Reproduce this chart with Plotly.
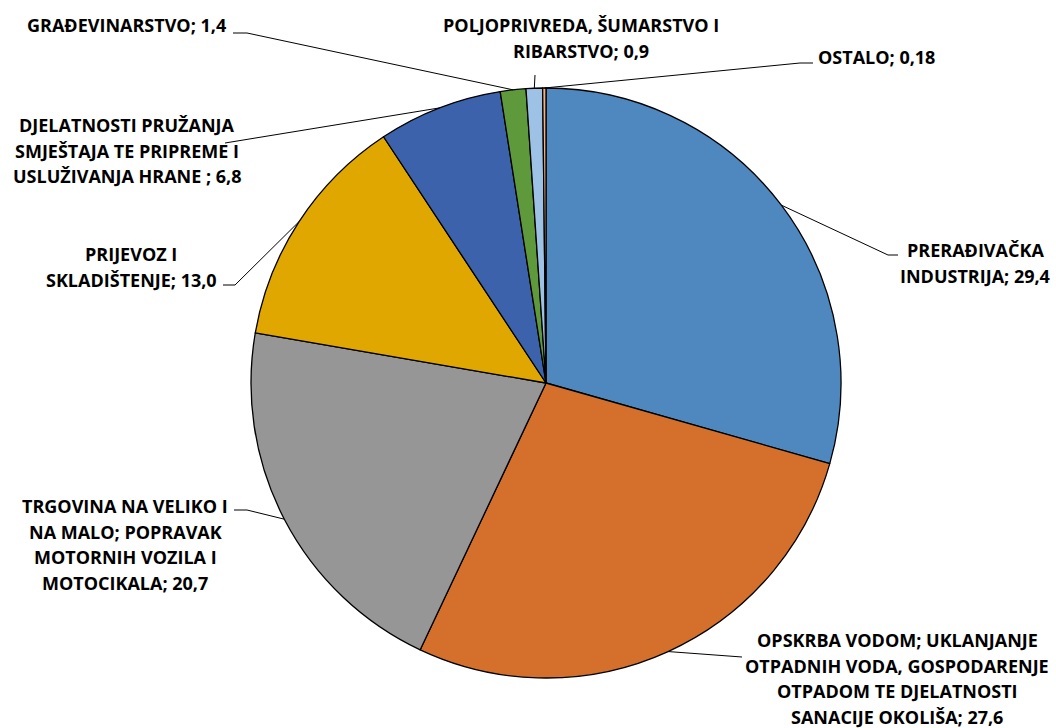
import math
import plotly.graph_objects as go

W, H = 1056, 728

# Sector names (line breaks as printed) and their shares
sectors = [
    "PRERAĐIVAČKA\nINDUSTRIJA",
    "OPSKRBA VODOM; UKLANJANJE\nOTPADNIH VODA, GOSPODARENJE\nOTPADOM TE DJELATNOSTI\nSANACIJE OKOLIŠA",
    "TRGOVINA NA VELIKO I\nNA MALO; POPRAVAK\nMOTORNIH VOZILA I\nMOTOCIKALA",
    "PRIJEVOZ I\nSKLADIŠTENJE",
    "DJELATNOSTI PRUŽANJA\nSMJEŠTAJA TE PRIPREME I\nUSLUŽIVANJA HRANE ",
    "GRAĐEVINARSTVO",
    "POLJOPRIVREDA, ŠUMARSTVO I\nRIBARSTVO",
    "OSTALO",
]
values = [29.4, 27.6, 20.7, 13.0, 6.8, 1.4, 0.9, 0.18]
colors = ["#4F87BF", "#D4702C", "#969696", "#E0A700", "#3B62AB",
          "#5E9A3C", "#9EC2E6", "#F4B183"]

# Pie geometry in pixels
CX, CY, R = 546, 383, 295

# Label placement: text centre x, first-line y, leader bend point, leader end point
label_pos = [
    dict(x=975, y=250, bend=(888, 255), end=(898, 255)),
    dict(x=897, y=640, bend=(742, 657), end=(742, 657)),
    dict(x=125, y=506, bend=(247, 510), end=(234, 510)),
    dict(x=131, y=254, bend=(235, 285), end=(223, 285)),
    dict(x=127, y=125, bend=(225, 143), end=(225, 143)),
    dict(x=126, y=25, bend=(247, 33), end=(233, 33)),
    dict(x=581, y=25, bend=(535, 75), end=(535, 75)),
    dict(x=876, y=57, bend=(800, 63), end=(813, 63)),
]
LINE_STEP = 25.7
FONT = dict(family="Open Sans", size=18, color="#000000", weight=700)


def px(x, y):
    return x / W, 1 - y / H


def fmt(v):
    return str(v).replace(".", ",")


fig = go.Figure(go.Pie(
    labels=[s.replace("\n", " ") for s in sectors],
    values=values,
    sort=False,
    direction="clockwise",
    rotation=0,
    textinfo="none",
    hoverinfo="label+value",
    marker=dict(colors=colors, line=dict(color="#000000", width=1.3)),
    domain=dict(x=[(CX - R) / W, (CX + R) / W], y=[1 - (CY + R) / H, 1 - (CY - R) / H]),
    showlegend=False,
))

annotations = []
shapes = []
total = sum(values)
cum = 0.0
for name, v, pos in zip(sectors, values, label_pos):
    mid = (cum + v / 2) / total * 2 * math.pi
    cum += v
    sx, sy = CX + R * math.sin(mid), CY - R * math.cos(mid)

    lines = name.split("\n")
    lines[-1] = lines[-1] + "; " + fmt(v)
    for i, line in enumerate(lines):
        ax, ay = px(pos["x"], pos["y"] + i * LINE_STEP)
        annotations.append(dict(
            x=ax, y=ay, xref="paper", yref="paper", text=line,
            showarrow=False, xanchor="center", yanchor="middle", font=FONT,
        ))

    pts = [(sx, sy), pos["bend"], pos["end"]]
    path = "M " + " L ".join(f"{px(a, b)[0]},{px(a, b)[1]}" for a, b in pts)
    shapes.append(dict(type="path", path=path, xref="paper", yref="paper",
                       line=dict(color="#000000", width=1)))

fig.update_layout(
    width=W, height=H,
    margin=dict(l=0, r=0, t=0, b=0),
    paper_bgcolor="#FFFFFF",
    plot_bgcolor="#FFFFFF",
    annotations=annotations,
    shapes=shapes,
)

fig.write_html("out.html")
